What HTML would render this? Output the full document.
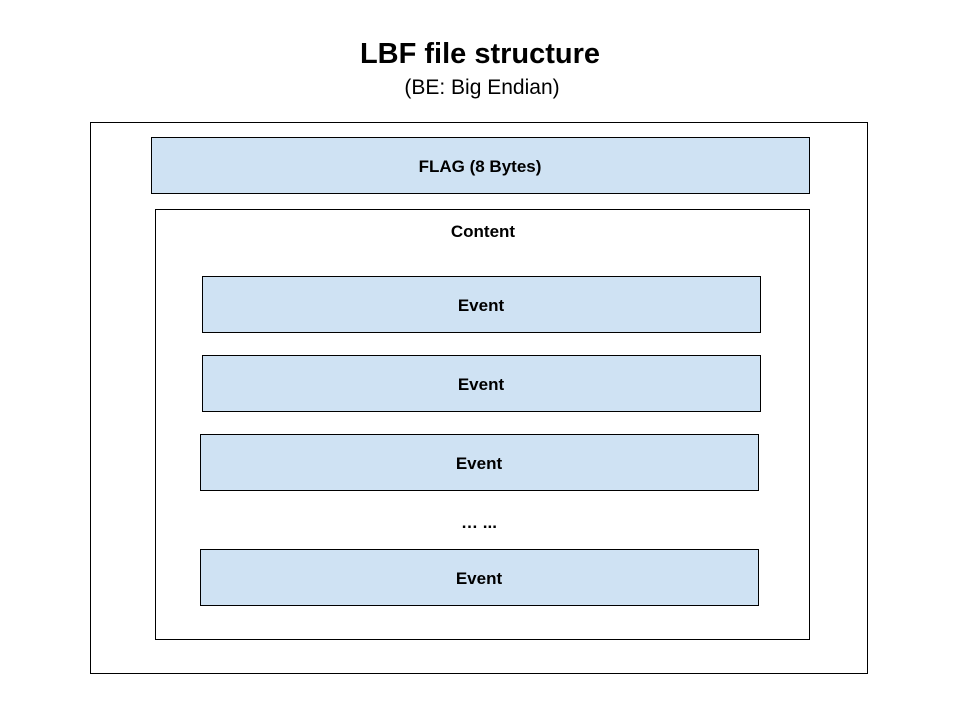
<!DOCTYPE html>
<html><head><style>
body{margin:0;background:#fff;}
svg{display:block;}
text{font-family:"Liberation Sans",Arial,sans-serif;}
</style></head><body>
<svg width="960" height="720" xmlns="http://www.w3.org/2000/svg">
<rect width="960" height="720" fill="#fff"/>
<text x="480" y="63" text-anchor="middle" font-size="29" font-weight="bold" fill="#000">LBF file structure</text>
<text x="482" y="94" text-anchor="middle" font-size="21" fill="#000">(BE: Big Endian)</text>
<rect x="90.5" y="122.5" width="777" height="551" fill="#fff" stroke="#000" stroke-width="1"/>
<rect x="151.5" y="137.5" width="658" height="56" fill="#cfe2f3" stroke="#000" stroke-width="1"/>
<text x="480" y="172" text-anchor="middle" font-size="17" font-weight="bold">FLAG (8 Bytes)</text>
<rect x="155.5" y="209.5" width="654" height="430" fill="#fff" stroke="#000" stroke-width="1"/>
<text x="483" y="237" text-anchor="middle" font-size="17" font-weight="bold">Content</text>
<rect x="202.5" y="276.5" width="558" height="56" fill="#cfe2f3" stroke="#000" stroke-width="1"/>
<text x="481" y="311" text-anchor="middle" font-size="17" font-weight="bold">Event</text>
<rect x="202.5" y="355.5" width="558" height="56" fill="#cfe2f3" stroke="#000" stroke-width="1"/>
<text x="481" y="390" text-anchor="middle" font-size="17" font-weight="bold">Event</text>
<rect x="200.5" y="434.5" width="558" height="56" fill="#cfe2f3" stroke="#000" stroke-width="1"/>
<text x="479" y="469" text-anchor="middle" font-size="17" font-weight="bold">Event</text>
<text x="479" y="528" text-anchor="middle" font-size="17" font-weight="bold">… ...</text>
<rect x="200.5" y="549.5" width="558" height="56" fill="#cfe2f3" stroke="#000" stroke-width="1"/>
<text x="479" y="584" text-anchor="middle" font-size="17" font-weight="bold">Event</text>
</svg>
</body></html>
